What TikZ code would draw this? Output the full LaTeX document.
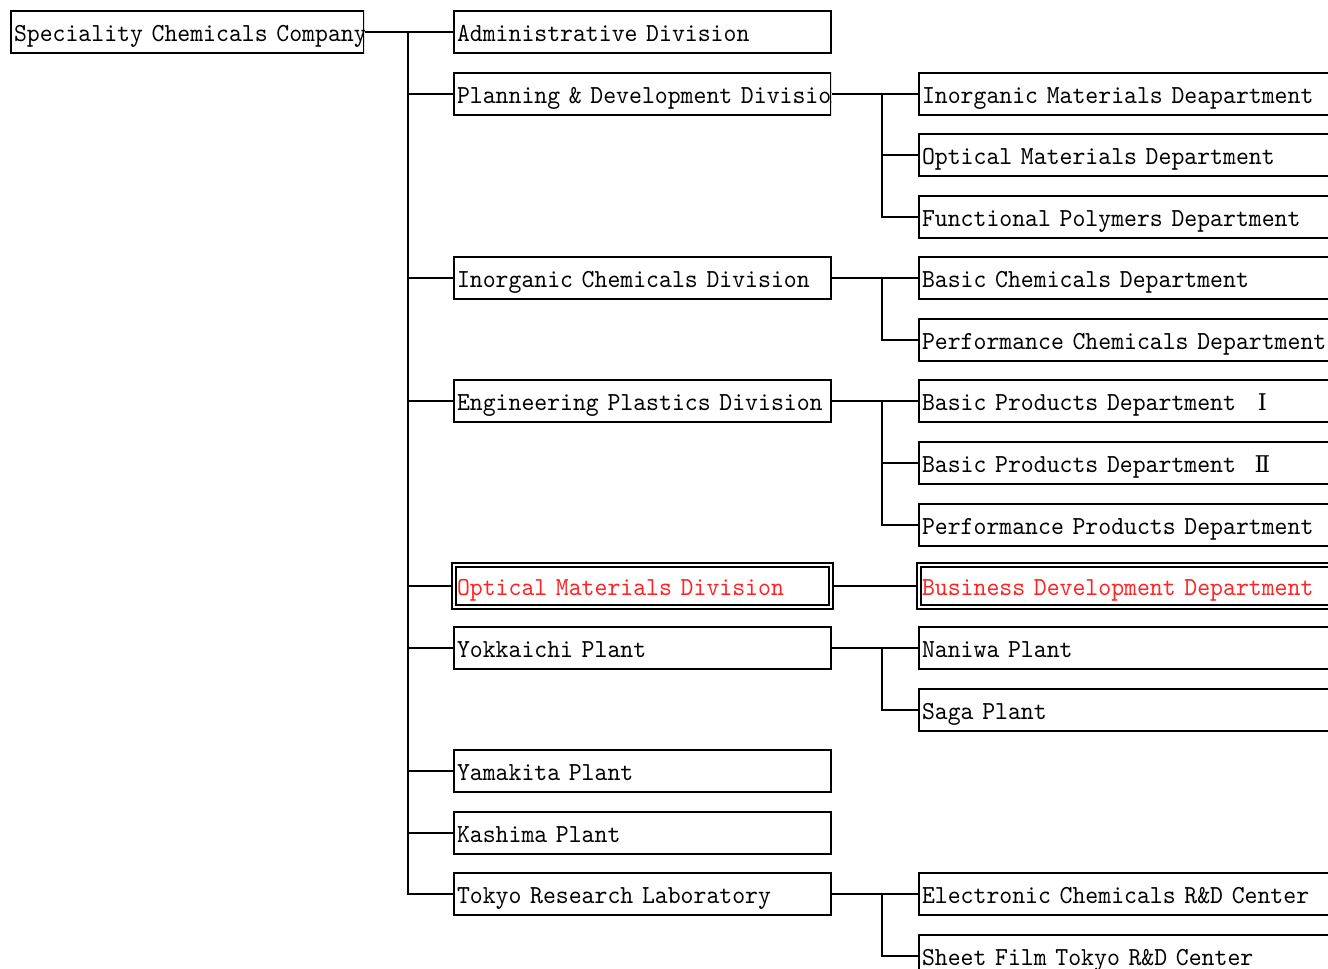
\documentclass[tikz,border=0pt]{standalone}
\usepackage{fontspec}
\newfontfamily\orgfont{lmmono10-regular.otf}[FakeStretch=0.945]
\newfontfamily\numfont{DejaVu Serif}
\definecolor{hl}{RGB}{255,35,35}
\tikzset{
 ob/.style={draw, line width=2pt, anchor=west, inner xsep=3pt, inner ysep=0pt,
   minimum height=42pt, text height=19pt, text depth=0pt, align=left,
   font=\orgfont\fontsize{26}{26}\selectfont},
 divbox/.style={ob, text width=371pt},
 depbox/.style={ob, text width=434pt},
 compbox/.style={ob, text width=347pt},
 hlbox/.style={double, double distance=1.5pt, line width=2pt, text=hl},
 link/.style={line width=2pt},
}
\newcommand\rn[1]{\hspace{14pt}\makebox[25pt]{\numfont\fontsize{23}{23}\selectfont #1}}
\begin{document}
\begin{tikzpicture}[x=1pt,y=-1pt]
\useasboundingbox (0,0) rectangle (1328,969);
\clip (0,0) rectangle (1328,969);
% company
\begin{scope}
\clip (0,0) rectangle (364,60);
\node[compbox] (comp) at (10,32) {\mbox{Speciality Chemicals Company}};
\end{scope}
% divisions
\node[divbox] (adm) at (453,32) {Administrative Division};
\begin{scope}
\clip (440,70) rectangle (831,118);
\node[divbox] (plan) at (453,94) {\mbox{Planning \& Development Division}};
\end{scope}
\node[divbox] (inorg) at (453,278) {Inorganic Chemicals Division};
\node[divbox] (eng) at (453,401) {Engineering Plastics Division};
\node[divbox, hlbox] (opt) at (453,586) {Optical Materials Division};
\node[divbox] (yok) at (453,648) {Yokkaichi Plant};
\node[divbox] (yam) at (453,771) {Yamakita Plant};
\node[divbox] (kas) at (453,833) {Kashima Plant};
\node[divbox] (tok) at (453,894) {Tokyo Research Laboratory};
% departments
\node[depbox] (d1) at (918,94) {Inorganic Materials Deapartment};
\node[depbox] (d2) at (918,155) {Optical Materials Department};
\node[depbox] (d3) at (918,217) {Functional Polymers Department};
\node[depbox] (d4) at (918,278) {Basic Chemicals Department};
\node[depbox] (d5) at (918,340) {Performance Chemicals Department};
\node[depbox] (d6) at (918,401) {\mbox{Basic Products Department\rn{Ⅰ}}};
\node[depbox] (d7) at (918,463) {\mbox{Basic Products Department\rn{Ⅱ}}};
\node[depbox] (d8) at (918,525) {Performance Products Department};
\node[depbox, hlbox] (d9) at (918,586) {Business Development Department};
\node[depbox] (d10) at (918,648) {Naniwa Plant};
\node[depbox] (d11) at (918,710) {Saga Plant};
\node[depbox] (d12) at (918,894) {Electronic Chemicals R\&D Center};
\node[depbox] (d13) at (918,956) {Sheet Film Tokyo R\&D Center};
% connectors
\coordinate (trunk) at (408,0);
\coordinate (sub) at (882,0);
\draw[link] (comp.east) -- (adm.west);
\draw[link] (trunk |- adm.west) |- (tok.west);
\foreach \n in {plan,inorg,eng,opt,yok,yam,kas}
  \draw[link] (trunk |- \n.west) -- (\n.west);
% planning
\draw[link] (plan.east) -- (d1.west);
\draw[link] (sub |- d1.west) |- (d3.west);
\draw[link] (sub |- d2.west) -- (d2.west);
% inorganic
\draw[link] (inorg.east) -- (d4.west);
\draw[link] (sub |- d4.west) |- (d5.west);
% engineering
\draw[link] (eng.east) -- (d6.west);
\draw[link] (sub |- d6.west) |- (d8.west);
\draw[link] (sub |- d7.west) -- (d7.west);
% optical
\draw[link] (opt.east) -- (d9.west);
% yokkaichi
\draw[link] (yok.east) -- (d10.west);
\draw[link] (sub |- d10.west) |- (d11.west);
% tokyo
\draw[link] (tok.east) -- (d12.west);
\draw[link] (sub |- d12.west) |- (d13.west);
\end{tikzpicture}
\end{document}
